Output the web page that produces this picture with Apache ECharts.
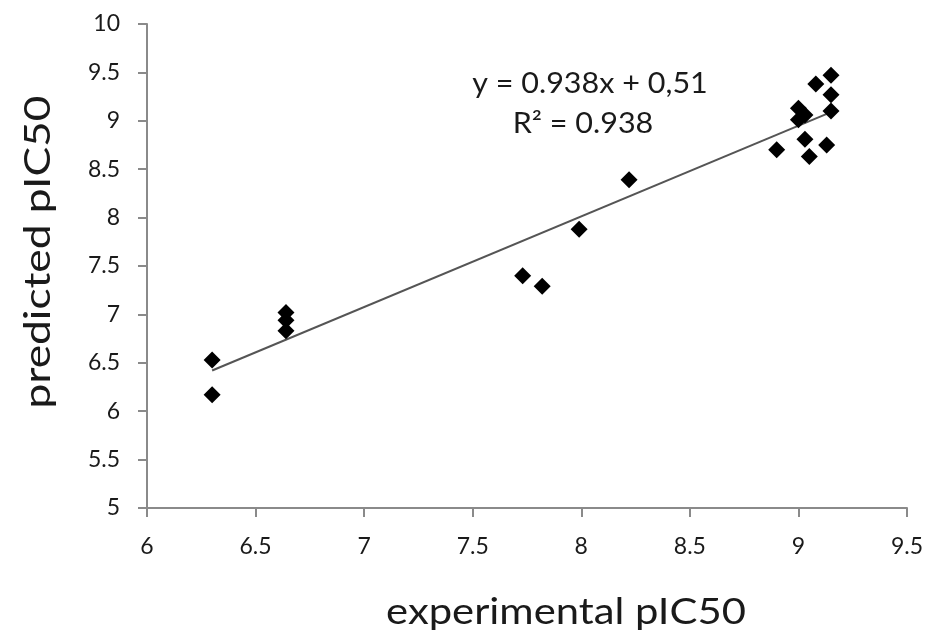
<!DOCTYPE html>
<html>
<head>
<meta charset="utf-8">
<title>pIC50 scatter</title>
<script src="https://cdn.jsdelivr.net/npm/echarts@6/dist/echarts.min.js"></script>
<style>
  html, body { margin: 0; padding: 0; background: #fff; }
  #chart { width: 928px; height: 636px; }
</style>
</head>
<body>
<div id="chart"></div>
<script>
// experimental vs predicted pIC50
var expValues = [6.30, 6.30, 6.64, 6.64, 6.64, 7.73, 7.82, 7.99, 8.22,
                 8.90, 9.00, 9.03, 9.00, 9.03, 9.05, 9.13, 9.08, 9.15, 9.15, 9.15];
var predValues = [6.53, 6.17, 7.02, 6.94, 6.83, 7.40, 7.29, 7.88, 8.39,
                  8.70, 9.13, 9.06, 9.01, 8.81, 8.63, 8.75, 9.38, 9.47, 9.27, 9.10];

// end points of the drawn trend line
var trendX = [6.30, 9.15];
var trendY = [6.42, 9.09];

var xTicks = { min: 6, max: 9.5, step: 0.5 };
var yTicks = { min: 5, max: 10, step: 0.5 };

var eqLine = 'y = 0.938x + 0,51';
var r2Line = 'R² = 0.938';
var xTitle = 'experimental pIC50';
var yTitle = 'predicted pIC50';

var FONT = 'Lato, "Open Sans", sans-serif';
var AXIS_GREY = '#8a8a8a';
var TEXT = '#1a1a1a';

var points = expValues.map(function (v, i) { return [v, predValues[i]]; });
var trend = trendX.map(function (v, i) { return [v, trendY[i]]; });

// the original text is a bit wider than Lato, so stretch it sideways
function label(txt, x, y, size, sx, rot) {
    return {
        type: 'text',
        x: x, y: y,
        rotation: rot || 0,
        scaleX: sx,
        style: {
            text: txt, x: 0, y: 0,
            align: 'center', verticalAlign: 'middle',
            font: size + 'px ' + FONT, fill: TEXT
        }
    };
}

var chart = echarts.init(document.getElementById('chart'));

var option = {
    backgroundColor: '#fff',
    animation: false,
    grid: { left: 147, right: 21, top: 24, bottom: 128 },
    xAxis: {
        type: 'value',
        min: xTicks.min,
        max: xTicks.max,
        interval: xTicks.step,
        axisLine: { show: true, lineStyle: { color: AXIS_GREY, width: 2 } },
        axisTick: { show: true, length: 9, lineStyle: { color: AXIS_GREY, width: 2 } },
        splitLine: { show: false },
        axisLabel: { color: TEXT, fontSize: 23, fontFamily: FONT, margin: 27 }
    },
    yAxis: {
        type: 'value',
        min: yTicks.min,
        max: yTicks.max,
        interval: yTicks.step,
        axisLine: { show: true, lineStyle: { color: AXIS_GREY, width: 2 } },
        axisTick: { show: true, length: 9, lineStyle: { color: AXIS_GREY, width: 2 } },
        splitLine: { show: false },
        axisLabel: { color: TEXT, fontSize: 23, fontFamily: FONT, margin: 27 }
    },
    graphic: [
        label(eqLine, 590, 84, 28, 1.09),
        label(r2Line, 583, 124, 28, 1.09),
        label(xTitle, 566, 612, 36, 1.16),
        label(yTitle, 38, 252, 36, 1.23, Math.PI / 2)
    ],
    series: [
        {
            type: 'line',
            data: trend,
            symbol: 'none',
            lineStyle: { color: '#555', width: 2 },
            z: 1
        },
        {
            type: 'scatter',
            data: points,
            symbol: 'diamond',
            symbolSize: 17,
            itemStyle: { color: '#000', opacity: 1 },
            z: 2
        }
    ]
};

chart.setOption(option);
</script>
</body>
</html>
